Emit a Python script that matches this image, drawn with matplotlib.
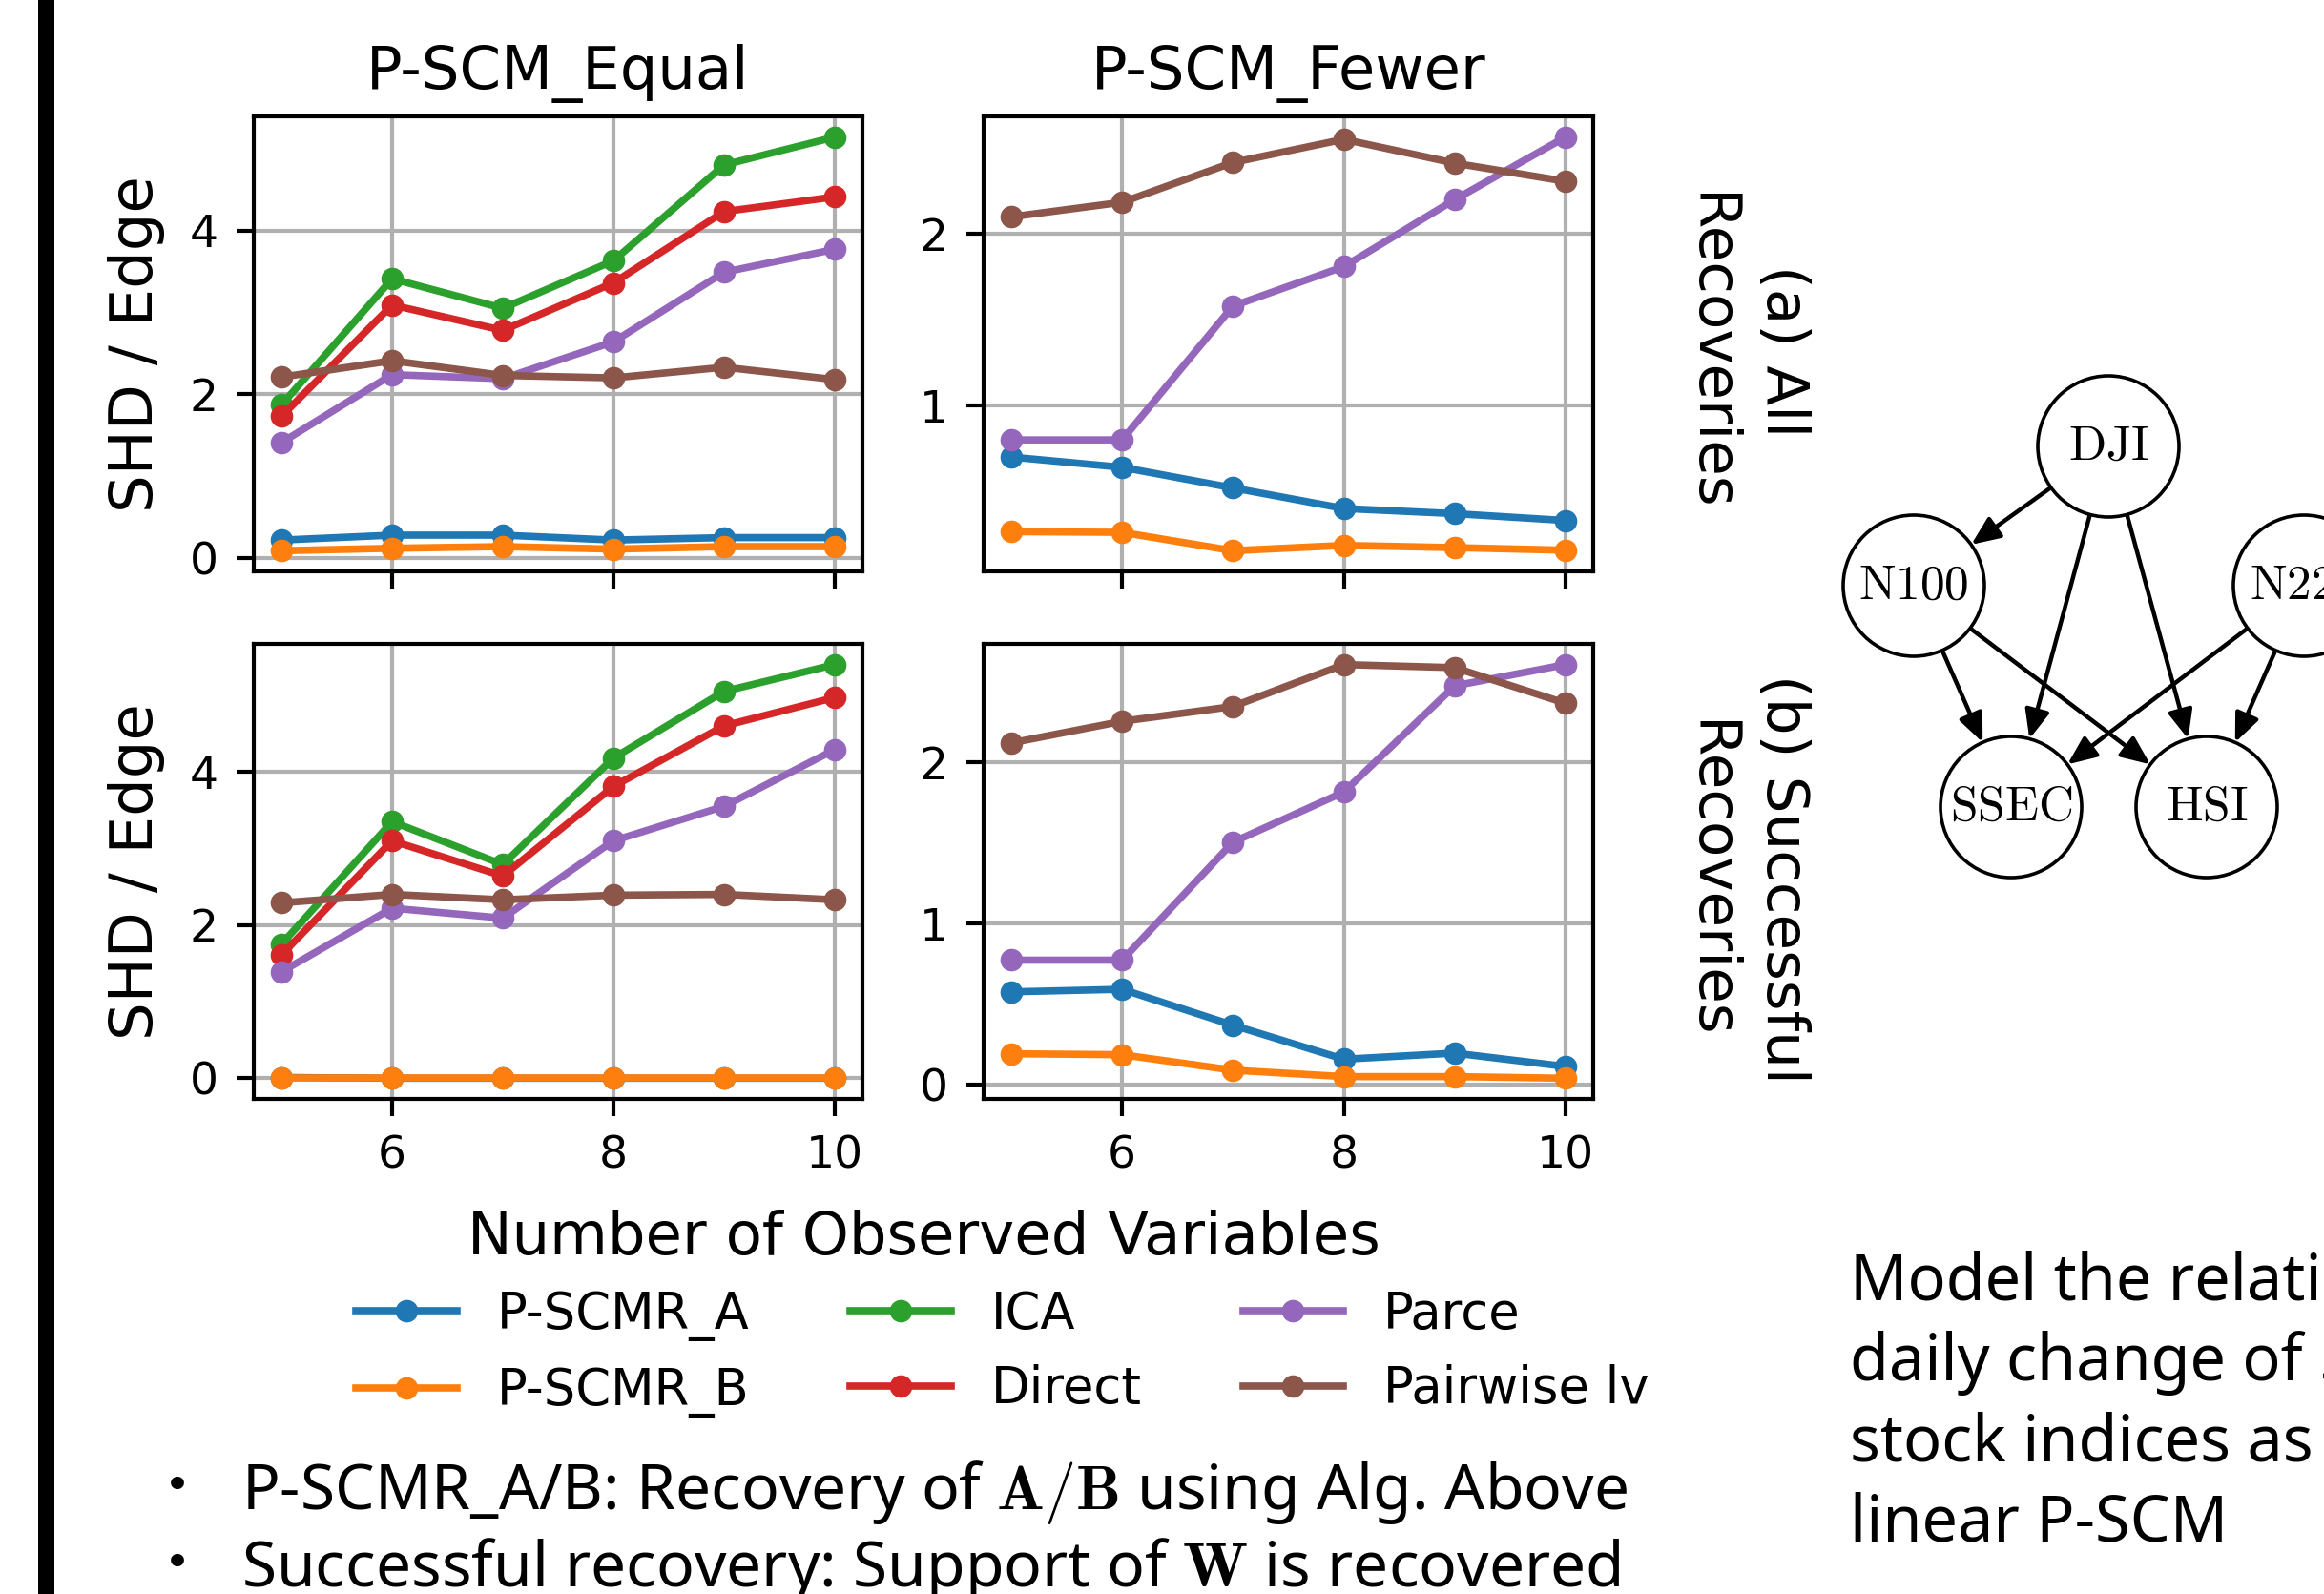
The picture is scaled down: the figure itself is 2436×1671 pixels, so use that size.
import matplotlib
matplotlib.use("Agg")
import matplotlib.pyplot as plt
from matplotlib.patches import Circle, FancyArrowPatch, Rectangle
from matplotlib.ticker import MultipleLocator
import numpy as np

# ---------------- data ----------------
n_vars = [5, 6, 7, 8, 9, 10]
methods = ["P-SCMR_A", "P-SCMR_B", "ICA", "Direct", "Parce", "Pairwise lv"]
colors = ["#1f77b4", "#ff7f0e", "#2ca02c", "#d62728", "#9467bd", "#8c564b"]

# P-SCM_Equal, (a) All Recoveries
equal_all_A = [0.22, 0.28, 0.28, 0.22, 0.25, 0.25]
equal_all_B = [0.09, 0.12, 0.14, 0.11, 0.14, 0.14]
equal_all_ICA = [1.87, 3.41, 3.05, 3.63, 4.80, 5.14]
equal_all_Direct = [1.73, 3.09, 2.78, 3.36, 4.23, 4.41]
equal_all_Parce = [1.41, 2.24, 2.19, 2.64, 3.49, 3.77]
equal_all_Pairwise = [2.21, 2.41, 2.23, 2.20, 2.33, 2.18]

# P-SCM_Equal, (b) Successful Recoveries
equal_succ_A = [0.01, 0.00, 0.00, 0.00, 0.00, 0.00]
equal_succ_B = [0.00, 0.00, 0.00, 0.00, 0.00, 0.00]
equal_succ_ICA = [1.75, 3.35, 2.79, 4.18, 5.05, 5.40]
equal_succ_Direct = [1.61, 3.10, 2.64, 3.81, 4.60, 4.97]
equal_succ_Parce = [1.39, 2.22, 2.09, 3.10, 3.55, 4.29]
equal_succ_Pairwise = [2.29, 2.40, 2.33, 2.39, 2.40, 2.33]

# P-SCM_Fewer, (a) All Recoveries
fewer_all_A = [0.70, 0.64, 0.52, 0.40, 0.37, 0.33]
fewer_all_B = [0.265, 0.261, 0.154, 0.185, 0.172, 0.157]
fewer_all_Parce = [0.80, 0.80, 1.58, 1.81, 2.20, 2.565]
fewer_all_Pairwise = [2.10, 2.185, 2.417, 2.552, 2.413, 2.307]

# P-SCM_Fewer, (b) Successful Recoveries
fewer_succ_A = [0.577, 0.593, 0.370, 0.159, 0.197, 0.114]
fewer_succ_B = [0.193, 0.187, 0.091, 0.051, 0.051, 0.041]
fewer_succ_Parce = [0.774, 0.774, 1.506, 1.817, 2.476, 2.608]
fewer_succ_Pairwise = [2.122, 2.256, 2.348, 2.608, 2.589, 2.368]

col_titles = ["P-SCM_Equal", "P-SCM_Fewer"]
row_titles = ["(a) All\nRecoveries", "(b) Successful\nRecoveries"]
y_label = "SHD / Edge"
x_label = "Number of Observed Variables"

panels = [
    [
        [equal_all_A, equal_all_B, equal_all_ICA, equal_all_Direct, equal_all_Parce, equal_all_Pairwise],
        [fewer_all_A, fewer_all_B, None, None, fewer_all_Parce, fewer_all_Pairwise],
    ],
    [
        [equal_succ_A, equal_succ_B, equal_succ_ICA, equal_succ_Direct, equal_succ_Parce, equal_succ_Pairwise],
        [fewer_succ_A, fewer_succ_B, None, None, fewer_succ_Parce, fewer_succ_Pairwise],
    ],
]

# causal graph of stock indices
node_names = ["DJI", "N100", "N225", "SSEC", "HSI"]
edges = [("DJI", "N100"), ("DJI", "SSEC"), ("DJI", "HSI"),
         ("N100", "SSEC"), ("N100", "HSI"), ("N225", "SSEC"), ("N225", "HSI")]

bullet_lines = [
    r"P-SCMR_A/B: Recovery of $\mathbf{A}/\mathbf{B}$ using Alg. Above",
    r"Successful recovery: Support of $\mathbf{W}$ is recovered",
]
side_lines = ["Model the relationship between", "daily change of 5 major",
              "stock indices as", "linear P-SCM"]

# ---------------- figure ----------------
W, H = 2436, 1671
fig = plt.figure(figsize=(W / 100, H / 100), dpi=100)
fig.patch.set_facecolor("white")

def fx(px):
    return px / W

def fy(py):
    return 1 - py / H

col_x = [(266, 904), (1031, 1670)]
row_y = [(122, 599), (675, 1152)]

TICK_FS = 34
LABEL_FS = 45

axes = [[None, None], [None, None]]
for r in range(2):
    for c in range(2):
        x0, x1 = col_x[c]
        y0, y1 = row_y[r]
        ax = fig.add_axes([fx(x0), fy(y1), fx(x1 - x0), (y1 - y0) / H])
        axes[r][c] = ax
        for k, series in enumerate(panels[r][c]):
            if series is None:
                continue
            ax.plot(n_vars, series, color=colors[k], lw=5.5, marker="o",
                    ms=16, label=methods[k])
        ax.grid(True, color="#b0b0b0", lw=3)
        ax.set_axisbelow(True)
        for s in ax.spines.values():
            s.set_linewidth(3)
        ax.tick_params(axis="both", labelsize=TICK_FS, length=13, width=3, pad=14)
        ax.xaxis.set_major_locator(MultipleLocator(2))
        ax.yaxis.set_major_locator(MultipleLocator(2 if c == 0 else 1))
        ax.set_xlim(4.75, 10.25)
        if r == 0:
            ax.tick_params(axis="x", labelbottom=False)
            ax.set_title(col_titles[c], fontsize=LABEL_FS, pad=21)

# y labels and row titles
for r in range(2):
    yc = (row_y[r][0] + row_y[r][1]) / 2
    fig.text(fx(143), fy(yc), y_label, rotation=90, ha="center", va="center",
             fontsize=LABEL_FS)
    fig.text(fx(1830), fy(yc + 8), row_titles[r], rotation=270, ha="center",
             va="center", fontsize=44, multialignment="center", linespacing=1.4)

# x label
fig.text(fx(968), fy(1315), x_label, ha="center", va="baseline", fontsize=LABEL_FS)

# legend
handles, labels = axes[0][0].get_legend_handles_labels()
fig.legend(handles, labels, loc="center", bbox_to_anchor=(fx(1051), fy(1419)),
           ncol=3, frameon=False, fontsize=38)

# left black bar
fig.patches.append(Rectangle((fx(40), 0), fx(17), 1, transform=fig.transFigure,
                             facecolor="black", edgecolor="none"))

# ---------------- graph overlay ----------------
gax = fig.add_axes([0, 0, 1, 1], facecolor="none")
gax.set_xlim(0, W)
gax.set_ylim(H, 0)
gax.axis("off")
node_x = [2210, 2006, 2415, 2108, 2313]
node_y = [468, 614, 614, 846, 846]
radius = 74
pos = {n: (node_x[i], node_y[i]) for i, n in enumerate(node_names)}
for n in node_names:
    x, y = pos[n]
    gax.add_patch(Circle((x, y), radius, facecolor="white", edgecolor="black",
                         lw=2.6, zorder=3))
    gax.text(x, y, r"$\mathrm{%s}$" % n, ha="center", va="center", fontsize=37,
             math_fontfamily="cm", zorder=4)
for a, b in edges:
    (xa, ya), (xb, yb) = pos[a], pos[b]
    d = np.hypot(xb - xa, yb - ya)
    ux, uy = (xb - xa) / d, (yb - ya) / d
    p0 = (xa + ux * radius, ya + uy * radius)
    p1 = (xb - ux * radius, yb - uy * radius)
    gax.add_patch(FancyArrowPatch(p0, p1, arrowstyle="-|>,head_length=0.7,head_width=0.3",
                                  mutation_scale=26, lw=3.2, color="black",
                                  shrinkA=0, shrinkB=0, zorder=2))

# ---------------- slide texts ----------------
renderer = fig.canvas.get_renderer()
b1 = fig.text(fx(253), fy(1582), bullet_lines[0], fontsize=44, family="Noto Sans",
              math_fontfamily="cm", ha="left", va="baseline")
w = b1.get_window_extent(renderer).width
bfs = 44 * 1453 / w
b1.set_fontsize(bfs)
fig.text(fx(253), fy(1663), bullet_lines[1], fontsize=bfs, family="Noto Sans",
         math_fontfamily="cm", ha="left", va="baseline")
for yb in (1582, 1663):
    fig.text(fx(186), fy(yb - 10), "\u2022", fontsize=34, family="DejaVu Sans",
             ha="center", va="baseline")

for i, line in enumerate(side_lines):
    fig.text(fx(1939), fy(1363 + i * 84.3), line, fontsize=48, family="Noto Sans",
             ha="left", va="baseline")

fig.savefig("out.png", dpi=100)
